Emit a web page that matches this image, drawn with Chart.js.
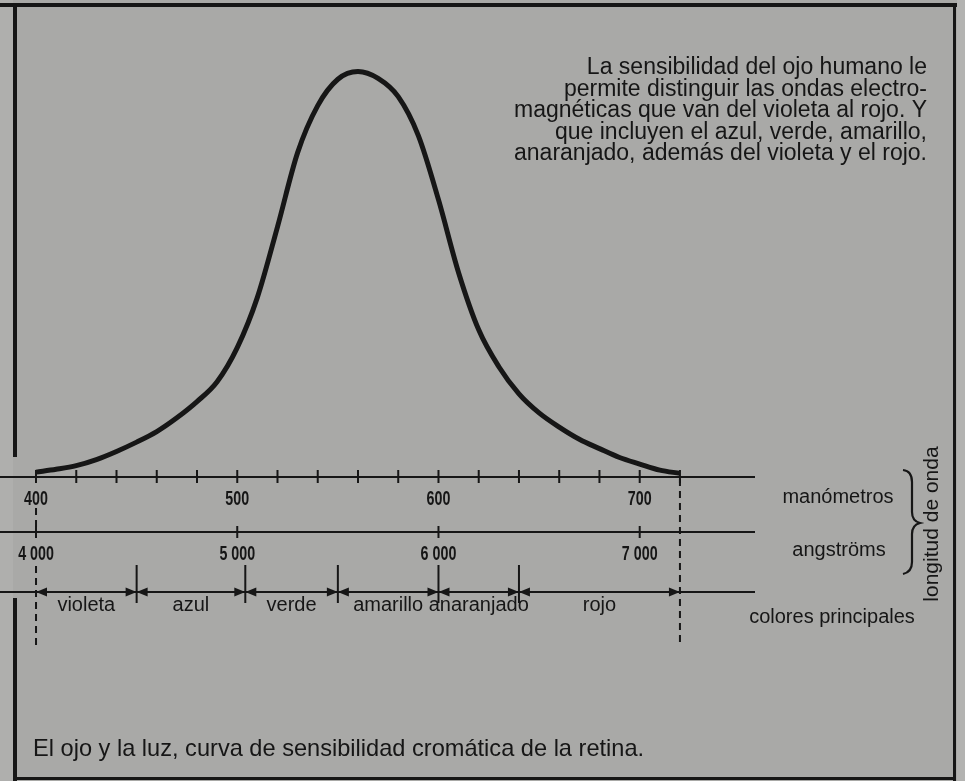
<!DOCTYPE html>
<html lang="es">
<head>
<meta charset="UTF-8">
<title>El ojo y la luz</title>
<script src="https://cdn.jsdelivr.net/npm/chart.js@4.4.0/dist/chart.umd.min.js"></script>
<style>
  html, body { margin: 0; padding: 0; background: #a9a9a7; }
  #wrap { position: relative; width: 965px; height: 781px; }
</style>
</head>
<body>
<div id="wrap"><canvas id="ojo" width="965" height="781"></canvas></div>
<script>
// longitud de onda (nm) y sensibilidad relativa
const longitudes = [400, 410, 420, 430, 440, 450, 460, 470, 480, 490, 500,
  510, 520, 530, 540, 550, 560, 570, 580, 590, 600,
  610, 620, 630, 640, 650, 660, 670, 680, 690, 700, 710, 720];
const sensibilidad = [1.2, 1.9, 2.8, 4.3, 6.3, 8.6, 11.2, 14.6, 18.6, 23.5, 31.9,
  44.3, 61.7, 80, 91.6, 98.1, 100, 98.3, 93.8, 84.2, 68.4,
  50.4, 36.3, 27.2, 20.5, 15.8, 12.3, 9.3, 7.0, 4.8, 3.2, 1.7, 0.9];

// marcas y etiquetas de los ejes
const marcasNm = [400, 420, 440, 460, 480, 500, 520, 540, 560, 580, 600, 620, 640, 660, 680, 700, 720];
const etiquetasNm = [400, 500, 600, 700];
const marcasAngstrom = [4000, 5000, 6000, 7000];

// colores principales y sus límites (nm)
const limitesColor = [400, 450, 504, 550, 600, 640, 720];
const colores = ['violeta', 'azul', 'verde', 'amarillo', 'anaranjado', 'rojo'];

const nota = [
  'La sensibilidad del ojo humano le',
  'permite distinguir las ondas electro-',
  'magnéticas que van del violeta al rojo. Y',
  'que incluyen el azul, verde, amarillo,',
  'anaranjado, además del violeta y el rojo.'
];
const pie = 'El ojo y la luz, curva de sensibilidad cromática de la retina.';

const X_MIN = 382.1, X_MAX = 756.8;
const TINTA = '#161616';
const SANS = '"Liberation Sans", Arial, sans-serif';

function linea(c, x1, y1, x2, y2) {
  c.beginPath(); c.moveTo(x1, y1); c.lineTo(x2, y2); c.stroke();
}
function flecha(c, x, y, dir) {
  // punta en x, dir = -1 apunta a la derecha, +1 a la izquierda
  c.beginPath();
  c.moveTo(x, y);
  c.lineTo(x + dir * 11, y - 4.5);
  c.lineTo(x + dir * 11, y + 4.5);
  c.closePath(); c.fill();
}
// cifras estrechas como en el original
function cifra(c, txt, x, y) {
  c.save();
  c.translate(x, y);
  c.scale(0.68, 1);
  c.fillText(txt, 0, 0);
  c.restore();
}

const dibujo = {
  id: 'dibujo',
  beforeDraw(chart) {
    const c = chart.ctx;
    c.save();
    c.fillStyle = '#a9a9a7';
    c.fillRect(0, 0, chart.width, chart.height);
    c.fillStyle = '#afafad';
    c.fillRect(0, 0, 13, chart.height);
    c.fillStyle = '#b3b3b1';
    c.fillRect(957, 0, chart.width - 957, chart.height);
    c.restore();
  },
  afterDraw(chart) {
    const c = chart.ctx;
    const sx = chart.scales.x, sa = chart.scales.xA, sc = chart.scales.xC;
    c.save();
    c.strokeStyle = TINTA; c.fillStyle = TINTA;

    // marcas que cruzan los ejes
    c.lineWidth = 2;
    marcasNm.forEach(v => {
      const px = sx.getPixelForValue(v);
      linea(c, px, sx.top - 7, px, sx.top + 6);
    });
    marcasAngstrom.forEach(v => {
      const px = sa.getPixelForValue(v);
      linea(c, px, sa.top - 6, px, sa.top + 6);
    });

    // etiquetas numéricas
    c.font = 'bold 21px ' + SANS;
    c.textAlign = 'center'; c.textBaseline = 'middle';
    etiquetasNm.forEach(v => cifra(c, String(v), sx.getPixelForValue(v), sx.top + 22));
    marcasAngstrom.forEach(v => cifra(c, Math.round(v / 1000) + ' 000', sa.getPixelForValue(v), sa.top + 22));

    // límites de los colores con flechas
    limitesColor.forEach((v, i) => {
      const px = sc.getPixelForValue(v), y = sc.top;
      if (i > 0 && i < limitesColor.length - 1) linea(c, px, y - 27, px, y + 11);
      if (i > 0) flecha(c, px, y, -1);
      if (i < limitesColor.length - 1) flecha(c, px, y, 1);
    });

    // líneas de trazos en los extremos
    c.setLineDash([7, 5]);
    const x0 = sx.getPixelForValue(limitesColor[0]);
    const x1 = sx.getPixelForValue(limitesColor[limitesColor.length - 1]);
    linea(c, x0, sx.top + 31, x0, sa.top - 3);
    linea(c, x0, sa.top + 34, x0, sc.top + 56);
    linea(c, x1, sx.top + 2, x1, sc.top + 54);
    c.setLineDash([]);

    // marco
    c.lineWidth = 4;
    linea(c, 0, 5, 957, 5);
    linea(c, 15, 3, 15, 457);
    linea(c, 15, 598, 15, 781);
    c.lineWidth = 3;
    linea(c, 954.5, 3, 954.5, 781);
    linea(c, 13, 778.5, 956, 778.5);

    // llave
    c.lineWidth = 2.2;
    c.beginPath();
    c.moveTo(903, 470);
    c.quadraticCurveTo(912, 471, 912, 482);
    c.lineTo(912, 512);
    c.quadraticCurveTo(912, 521, 920, 523);
    c.quadraticCurveTo(912, 525, 912, 534);
    c.lineTo(912, 562);
    c.quadraticCurveTo(912, 572, 903, 574);
    c.stroke();

    // textos de la derecha
    c.font = '20px ' + SANS;
    c.textAlign = 'center'; c.textBaseline = 'middle';
    c.fillText('manómetros', 838, sx.top + 20);
    c.fillText('angströms', 839, sa.top + 18);
    c.fillText('colores principales', 832, sc.top + 25);

    c.save();
    c.translate(932, 524);
    c.rotate(-Math.PI / 2);
    c.font = '21px ' + SANS;
    c.fillText('longitud de onda', 0, 0);
    c.restore();

    // nota superior
    c.textAlign = 'right'; c.textBaseline = 'alphabetic';
    c.font = '23px ' + SANS;
    nota.forEach((t, i) => c.fillText(t, 927, 74 + i * 21.6));

    // pie
    c.textAlign = 'left';
    c.font = '23.6px ' + SANS;
    c.fillText(pie, 33, 756);
    c.restore();
  }
};

const centros = colores.map((n, i) => (limitesColor[i] + limitesColor[i + 1]) / 2);

new Chart(document.getElementById('ojo'), {
  type: 'line',
  data: {
    datasets: [{
      data: longitudes.map((x, i) => ({ x: x, y: sensibilidad[i] })),
      borderColor: TINTA,
      borderWidth: 5,
      pointRadius: 0,
      fill: false,
      cubicInterpolationMode: 'monotone',
      clip: false
    }]
  },
  options: {
    responsive: false,
    animation: false,
    layout: { padding: { top: 31, right: 211, left: 0, bottom: 0 } },
    plugins: { legend: { display: false }, tooltip: { enabled: false } },
    scales: {
      y: { display: false, min: 0, max: 110 },
      x: {
        type: 'linear', position: 'bottom', weight: 0, min: X_MIN, max: X_MAX,
        afterBuildTicks: s => { s.ticks = marcasNm.map(v => ({ value: v })); },
        afterFit: s => { s.height = 55; },
        grid: { display: false, drawTicks: false },
        border: { display: true, color: TINTA, width: 2 },
        ticks: { display: false }
      },
      xA: {
        type: 'linear', position: 'bottom', weight: 1, min: X_MIN * 10, max: X_MAX * 10,
        afterBuildTicks: s => { s.ticks = marcasAngstrom.map(v => ({ value: v })); },
        afterFit: s => { s.height = 60; },
        grid: { display: false, drawTicks: false },
        border: { display: true, color: TINTA, width: 2 },
        ticks: { display: false }
      },
      xC: {
        type: 'linear', position: 'bottom', weight: 2, min: X_MIN, max: X_MAX,
        afterBuildTicks: s => { s.ticks = centros.map(v => ({ value: v })); },
        afterFit: s => { s.height = 189; },
        grid: { display: false, drawTicks: false },
        border: { display: true, color: TINTA, width: 2 },
        ticks: {
          autoSkip: false, maxRotation: 0, padding: 1, color: TINTA,
          font: { family: SANS, size: 20 },
          callback: (v, i) => colores[i]
        }
      }
    }
  },
  plugins: [dibujo]
});
</script>
</body>
</html>
